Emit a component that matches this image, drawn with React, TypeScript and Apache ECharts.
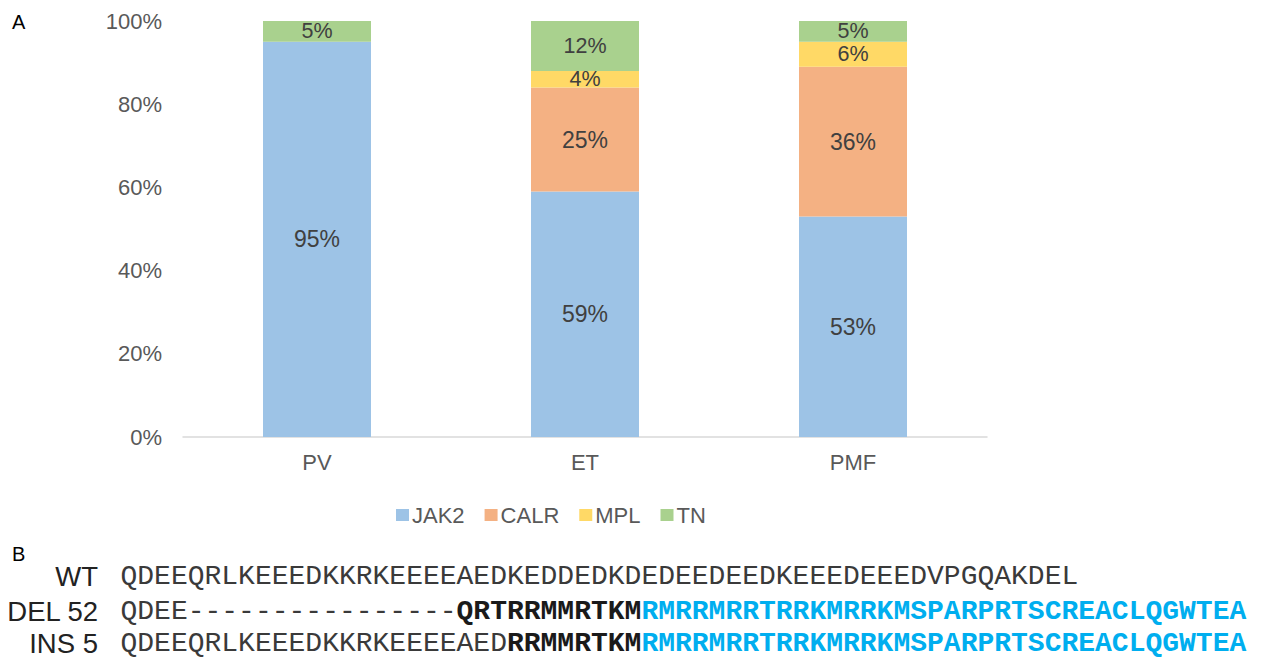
import React, { useEffect, useRef } from "react";
import * as echarts from "echarts";

const categories = ["PV", "ET", "PMF"];
const seriesNames = ["JAK2", "CALR", "MPL", "TN"];
const jak2 = [95, 59, 53];
const calr = [0, 25, 36];
const mpl = [0, 4, 6];
const tn = [5, 12, 5];
const yTicks = [0, 20, 40, 60, 80, 100];
const colors = ["#9DC3E6", "#F4B183", "#FFD966", "#A9D18E"];

const rowLabels = ["WT", "DEL 52", "INS 5"];
const wtPlain = "QDEEQRLKEEEDKKRKEEEEAEDKEDDEDKDEDEEDEEDKEEEDEEEDVPGQAKDEL";
const delPlain = "QDEE----------------";
const delBold = "QRTRRMMRTKM";
const insPlain = "QDEEQRLKEEEDKKRKEEEEAED";
const insBold = "RRMMRTKM";
const mutTail = "RMRRMRRTRRKMRRKMSPARPRTSCREACLQGWTEA";

const SANS = "'Liberation Sans', Arial, Helvetica, sans-serif";
const MONO = "'Liberation Mono', 'Courier New', monospace";

export default function App() {
  const ref = useRef<HTMLDivElement>(null);
  useEffect(() => {
    document.body.style.margin = "0";
    const chart = echarts.init(ref.current!, null, { renderer: "svg" });
    const dataSets = [jak2, calr, mpl, tn];
    const labelSizes = [23, 23, 21.5, 21.5];
    const rowY = [576, 611, 643];
    const seqRich = {
      n: { fontFamily: MONO, fontSize: 28, fill: "#3a3a3a", color: "#3a3a3a" },
      b: { fontFamily: MONO, fontSize: 28, fontWeight: "bold", fill: "#1a1a1a", color: "#1a1a1a" },
      c: { fontFamily: MONO, fontSize: 28, fontWeight: "bold", fill: "#00AEEF", color: "#00AEEF" },
    };
    const seqTexts = [
      `{n|${wtPlain}}`,
      `{n|${delPlain}}{b|${delBold}}{c|${mutTail}}`,
      `{n|${insPlain}}{b|${insBold}}{c|${mutTail}}`,
    ];
    const graphics: any[] = [
      { type: "text", left: 12, top: 12, style: { text: "A", fontFamily: SANS, fontSize: 20, fill: "#000" } },
      { type: "text", left: 12, top: 544, style: { text: "B", fontFamily: SANS, fontSize: 20, fill: "#000" } },
    ];
    rowLabels.forEach((lab, i) => {
      graphics.push({
        type: "text",
        x: 98,
        y: rowY[i],
        style: { text: lab, fontFamily: SANS, fontSize: 27.5, fill: "#222", align: "right", verticalAlign: "middle" },
      });
      graphics.push({
        type: "text",
        x: 120.5,
        y: rowY[i],
        style: { text: seqTexts[i], rich: seqRich, fontFamily: MONO, fontSize: 28, fill: "#3a3a3a", align: "left", verticalAlign: "middle" },
      });
    });
    chart.setOption({
      animation: false,
      textStyle: { fontFamily: SANS },
      grid: { left: 183, right: 277, top: 21, bottom: 223, containLabel: false },
      legend: {
        data: seriesNames,
        left: 391,
        top: 499,
        itemWidth: 13,
        itemHeight: 12,
        itemGap: 20,
        icon: "rect",
        textStyle: { fontSize: 22, color: "#595959", fontFamily: SANS, padding: [0, 0, 0, -2] },
      },
      xAxis: {
        type: "category",
        data: categories,
        axisLine: { lineStyle: { color: "#D9D9D9", width: 1.5 } },
        axisTick: { show: false },
        axisLabel: { fontSize: 22, color: "#595959", margin: 14, fontFamily: SANS },
      },
      yAxis: {
        type: "value",
        min: yTicks[0],
        max: yTicks[yTicks.length - 1],
        interval: 20,
        axisLine: { show: false },
        axisTick: { show: false },
        splitLine: { show: false },
        axisLabel: { fontSize: 22, color: "#595959", margin: 21, formatter: "{value}%", fontFamily: SANS },
      },
      series: seriesNames.map((name, i) => ({
        name,
        type: "bar",
        stack: "total",
        barWidth: 108,
        itemStyle: { color: colors[i] },
        label: {
          show: true,
          position: "inside",
          fontSize: labelSizes[i],
          lineHeight: 20,
          color: "#404040",
          fontFamily: SANS,
          formatter: (p: any) => (p.value > 0 ? `${p.value}%` : ""),
        },
        data: dataSets[i].map((v) => (v > 0 ? v : null)),
      })),
      graphic: graphics,
    });
    return () => chart.dispose();
  }, []);
  return <div ref={ref} style={{ width: 1264, height: 660 }} />;
}
